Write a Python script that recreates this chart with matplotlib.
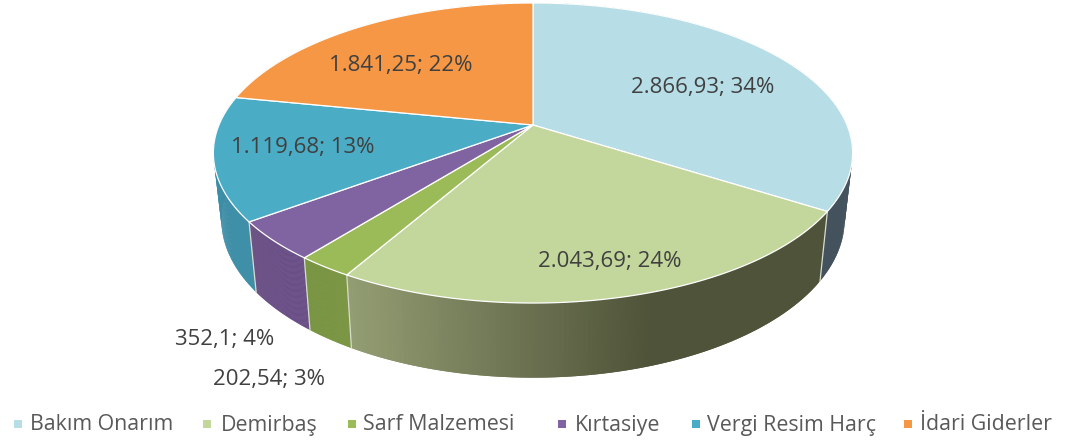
import numpy as np
import matplotlib
matplotlib.use("Agg")
import matplotlib.pyplot as plt
from matplotlib.colors import to_rgb
from matplotlib.collections import PolyCollection
from matplotlib.patches import Polygon

plt.rcParams['font.family'] = ['Open Sans', 'DejaVu Sans']

categories = ['Bakım Onarım', 'Demirbaş', 'Sarf Malzemesi', 'Kırtasiye', 'Vergi Resim Harç', 'İdari Giderler']
values = [2866.93, 2043.69, 202.54, 352.1, 1119.68, 1841.25]
value_labels = ['2.866,93', '2.043,69', '202,54', '352,1', '1.119,68', '1.841,25']
percents = [34, 24, 3, 4, 13, 22]

top_colors = ['#B7DDE7', '#C3D69B', '#9BBB59', '#8064A2', '#4BACC6', '#F59745']
# left/right colour of the side wall
wall_colors = [('#4A5D68', '#43525C'), ('#959F74', '#4F5339'), ('#76923C', '#72903A'),
               ('#6A4F88', '#654A80'), ('#3F8FA8', '#3A8CA5'), ('#C97A38', '#C97A38')]

label_pos = [(703, 88), (610, 261), (269, 379), (225, 339), (303, 147), (401, 66)]
legend_marker_x = [18, 207, 352, 562, 696, 908]
legend_text_x = [30, 221, 363, 575, 707, 920]

# pie geometry in pixels
CX, CY = 533, 125
K = 0.1867
A, B = 144.8, 314


def top_rim(theta):
    u, v = np.sin(theta), np.cos(theta)
    w = 1 + K * v
    return CX + B * u / w, CY - A * v / w


def bottom_rim(theta):
    x, y = top_rim(theta)
    return CX + (x - CX) * 0.975, 190 + (y - CY) * 1.054


fig = plt.figure(figsize=(10.66, 4.46), dpi=100)
ax = fig.add_axes([0, 0, 1, 1])
ax.set_xlim(0, 1066)
ax.set_ylim(446, 0)
ax.axis('off')

edges = np.cumsum([0] + values) / sum(values) * 2 * np.pi

# side walls first, the top face covers the back part
for i in range(len(values)):
    th = np.linspace(edges[i], edges[i + 1], 120)
    x1, y1 = top_rim(th)
    x2, y2 = bottom_rim(th)
    polys, cols = [], []
    c0, c1 = np.array(to_rgb(wall_colors[i][0])), np.array(to_rgb(wall_colors[i][1]))
    for j in range(len(th) - 1):
        # each strip overlaps the next one so no seams show
        k = min(j + 2, len(th) - 1)
        strip = list(zip(x1[j:k + 1], y1[j:k + 1])) + list(zip(x2[j:k + 1], y2[j:k + 1]))[::-1]
        polys.append(strip)
        if i == 1:
            # gradient runs out around x=650 on the big slice
            f = np.clip((650 - x2[j]) / (650 - 347), 0, 1)
            cols.append(c1 + (c0 - c1) * f)
        else:
            f = j / (len(th) - 2)
            cols.append(c0 + (c1 - c0) * f)
    ax.add_collection(PolyCollection(polys, facecolors=cols, edgecolors='none', linewidths=0, zorder=1))
    # light seam at slice edge
    if np.cos(edges[i + 1]) < 0.1:
        ax.plot([x1[-1], x2[-1]], [y1[-1], y2[-1]], color='#D8DCD0', lw=0.9, zorder=2)

# top face
for i in range(len(values)):
    th = np.linspace(edges[i], edges[i + 1], 200)
    x, y = top_rim(th)
    pts = np.column_stack([np.r_[CX, x], np.r_[CY, y]])
    ax.add_patch(Polygon(pts, closed=True, facecolor=top_colors[i], edgecolor='white', lw=0.9, zorder=3))

for i in range(len(values)):
    ax.text(label_pos[i][0], label_pos[i][1], f'{value_labels[i]}; {percents[i]}%',
            ha='center', va='center', fontsize=16, color='#404040', zorder=5)

for i in range(len(categories)):
    ax.plot(legend_marker_x[i], 424, marker='s', ms=5.5, color=top_colors[i], mew=0, ls='none')
    ax.text(legend_text_x[i], 425, categories[i], ha='left', va='center', fontsize=15.4, color='#595959')

fig.savefig('out.png', dpi=100)
